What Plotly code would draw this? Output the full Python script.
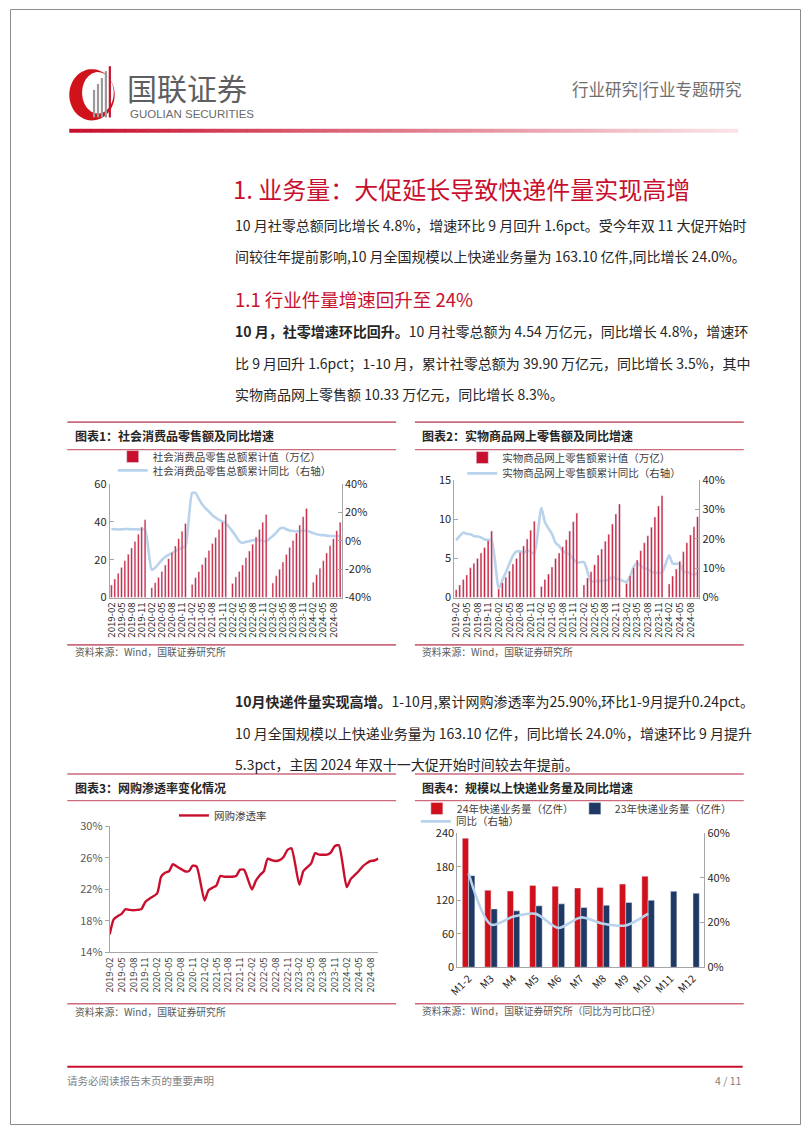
import plotly.graph_objects as go
import numpy as np

W, H = 802, 1133
def px(x): return x / W
def py(y): return 1 - y / H

# ---------------- DATA ----------------
years = [2019, 2020, 2021, 2022, 2023, 2024]
last_month_2024 = 10

# Chart 1: 社会消费品零售总额累计值 (万亿) / 累计同比 (%), Feb..Dec per year
retail_total = {
    2019: [6.61, 9.78, 12.82, 15.87, 19.52, 22.87, 26.21, 29.66, 33.52, 37.29, 41.16],
    2020: [5.21, 7.85, 10.62, 13.84, 17.26, 20.58, 23.96, 27.33, 31.16, 35.12, 39.20],
    2021: [6.97, 10.50, 13.69, 17.45, 21.19, 24.94, 28.65, 31.81, 36.00, 39.96, 44.08],
    2022: [7.44, 10.87, 13.83, 17.25, 21.04, 24.66, 28.27, 32.03, 36.05, 39.91, 43.97],
    2023: [7.70, 11.49, 14.99, 18.76, 22.76, 26.44, 30.20, 34.21, 38.39, 42.71, 47.15],
    2024: [8.13, 12.03, 15.55, 19.50, 23.60, 27.36, 31.13, 35.36, 39.90],
}
retail_yoy = {
    2019: [8.2, 8.3, 8.0, 8.1, 8.4, 8.3, 8.2, 8.2, 8.1, 8.0, 8.0],
    2020: [-20.5, -19.0, -16.2, -13.5, -11.4, -9.9, -8.6, -7.2, -5.9, -4.8, -3.9],
    2021: [33.8, 33.9, 29.6, 25.7, 23.0, 20.7, 18.1, 16.4, 14.9, 13.7, 12.5],
    2022: [6.7, 3.3, -0.2, -1.5, -0.7, -0.2, 0.5, 0.7, 0.6, -0.1, -0.2],
    2023: [3.5, 5.8, 8.5, 9.3, 8.2, 7.3, 7.0, 6.8, 6.9, 7.2, 7.2],
    2024: [5.5, 4.7, 4.1, 4.1, 3.7, 3.5, 3.4, 3.3, 3.5],
}

# Chart 2: 实物商品网上零售额累计值 (万亿) / 累计同比 (%)
online_total = {
    2019: [1.00, 1.60, 2.30, 2.90, 3.80, 4.40, 5.00, 5.70, 6.40, 7.30, 8.50],
    2020: [1.10, 1.90, 2.60, 3.40, 4.30, 5.00, 5.80, 6.60, 7.50, 8.60, 9.76],
    2021: [1.40, 2.30, 3.00, 3.90, 5.00, 5.70, 6.50, 7.40, 8.50, 9.70, 10.80],
    2022: [1.60, 2.50, 3.30, 4.20, 5.45, 6.20, 7.20, 8.10, 9.40, 10.70, 11.96],
    2023: [1.80, 2.80, 3.80, 4.80, 6.00, 7.00, 7.90, 9.00, 10.30, 11.70, 13.02],
    2024: [1.75, 2.75, 3.65, 4.65, 5.85, 7.00, 8.00, 9.05, 10.33],
}
online_yoy = {
    2019: [19.5, 21.0, 22.2, 21.7, 21.6, 21.0, 20.8, 20.5, 19.8, 19.7, 19.5],
    2020: [3.0, 5.9, 8.6, 11.5, 14.3, 15.7, 15.8, 15.3, 16.0, 15.7, 14.8],
    2021: [30.6, 25.8, 23.6, 21.7, 18.7, 17.6, 15.9, 15.2, 14.6, 13.2, 12.0],
    2022: [12.1, 8.8, 5.4, 5.6, 5.6, 5.7, 5.8, 6.1, 7.2, 6.4, 6.2],
    2023: [5.3, 7.3, 10.4, 11.8, 10.8, 10.0, 9.6, 8.9, 8.4, 8.5, 8.4],
    2024: [14.4, 11.6, 11.5, 11.5, 8.8, 8.7, 8.1, 7.9, 8.3],
}

# Chart 3: 网购渗透率 (%)
penetration = {
    2019: [16.3, 18.2, 18.6, 18.9, 19.5, 19.4, 19.35, 19.4, 19.5, 20.4, 20.8],
    2020: [21.5, 23.6, 24.1, 24.3, 25.2, 24.9, 24.6, 24.3, 24.3, 25.0, 24.9],
    2021: [20.6, 21.9, 22.2, 22.5, 23.7, 23.6, 23.6, 23.6, 23.7, 24.5, 24.5],
    2022: [22.0, 23.1, 23.8, 24.3, 25.9, 25.7, 25.6, 25.7, 26.1, 27.0, 27.2],
    2023: [22.6, 24.3, 24.8, 25.3, 26.6, 26.4, 26.4, 26.4, 26.7, 27.5, 27.6],
    2024: [22.3, 23.3, 23.8, 24.3, 24.9, 25.3, 25.6, 25.66, 25.9],
}

# Chart 4: 规模以上快递业务量 (亿件)
express_months = ["M1-2", "M3", "M4", "M5", "M6", "M7", "M8", "M9", "M10", "M11", "M12"]
express_2024 = [231, 138, 136.5, 146.5, 145, 142, 143, 149, 163.1]
express_2023 = [164, 104.5, 101, 110, 113.5, 107, 111, 116, 120, 136, 132.5]
express_yoy = [42.0, 19.1, 22.7, 23.9, 17.6, 22.3, 19.5, 18.7, 24.0]

# tick labels
yoy1_ticks = [-0.4, -0.2, 0, 0.2, 0.4]
yoy1_ticktext = ["-40%", "-20%", "0%", "20%", "40%"]

# ---------------- build monthly categories (January slot left empty) ----------------
months = []
for y in years:
    for m in range(1, 13):
        if y == 2019 and m < 2:
            continue
        if y == 2024 and m > last_month_2024:
            break
        months.append(f"{y}-{m:02d}")

def expand(d, scale=1.0):
    out = []
    for y in years:
        vals = d[y]
        if y != 2019:
            out.append(None)  # January
        out.extend([v * scale for v in vals])
    return out

tickv = [m for i, m in enumerate(months) if i % 3 == 0]

RED = "#C8102E"
RED4 = "#D0101A"
NAVY = "#1F3864"
LBLUE = "#B9D3EC"
AXC = "#A6A6A6"
TXT = "#262626"
FONT = "Noto Sans CJK SC"

fig = go.Figure()

# Chart 1
fig.add_trace(go.Scatter(x=months, y=expand(retail_yoy, 0.01), mode="lines",
                         line=dict(color=LBLUE, width=2.6, shape="spline", smoothing=0.6),
                         connectgaps=True, name="社会消费品零售总额累计同比（右轴）",
                         xaxis="x", yaxis="y", legend="legend2"))
fig.add_trace(go.Bar(x=months, y=expand(retail_total), marker_color=RED, width=0.5,
                     name="社会消费品零售总额累计值（万亿）", xaxis="x", yaxis="y2", legend="legend9"))

# Chart 2
fig.add_trace(go.Scatter(x=months, y=expand(online_yoy, 0.01), mode="lines",
                         line=dict(color=LBLUE, width=2.6, shape="spline", smoothing=0.6),
                         connectgaps=True, name="实物商品网上零售额累计同比（右轴）",
                         xaxis="x2", yaxis="y3", legend="legend4"))
fig.add_trace(go.Bar(x=months, y=expand(online_total), marker_color=RED, width=0.5,
                     name="实物商品网上零售额累计值（万亿）", xaxis="x2", yaxis="y4", legend="legend3"))

# Chart 3
fig.add_trace(go.Scatter(x=months, y=expand(penetration, 0.01), mode="lines",
                         line=dict(color=RED, width=2.4, shape="spline", smoothing=0.6),
                         connectgaps=True, name="网购渗透率",
                         xaxis="x3", yaxis="y5", legend="legend5"))

# Chart 4
fig.add_trace(go.Bar(x=express_months[:len(express_2024)], y=express_2024, marker_color=RED4,
                     name="24年快递业务量（亿件）", offsetgroup="a",
                     xaxis="x4", yaxis="y6", legend="legend6"))
fig.add_trace(go.Bar(x=express_months, y=express_2023, marker_color=NAVY,
                     name="23年快递业务量（亿件）", offsetgroup="b",
                     xaxis="x4", yaxis="y6", legend="legend7"))
fig.add_trace(go.Scatter(x=express_months[:len(express_yoy)], y=[v / 100 for v in express_yoy],
                         mode="lines", line=dict(color=LBLUE, width=2.6, shape="spline", smoothing=0.8),
                         name="同比（右轴）", xaxis="x4", yaxis="y7", legend="legend8"))

tickfont = dict(family=FONT, size=11, color=TXT)
datefont = dict(family=FONT, size=9.6, color=TXT)

def yax(**kw):
    base = dict(showgrid=False, zeroline=False, showline=True, linecolor=AXC, linewidth=1,
                ticks="inside", ticklen=4, tickcolor=AXC, tickfont=tickfont, fixedrange=True)
    base.update(kw)
    return base

def xax_dates(domain, anchor, rng):
    return dict(domain=domain, anchor=anchor, type="category", categoryorder="array",
                categoryarray=months, tickmode="array", tickvals=tickv, ticktext=tickv,
                tickangle=-90, tickfont=datefont, showline=True, linecolor=AXC, linewidth=1,
                ticks="", showgrid=False, range=rng, fixedrange=True)

n = len(months)
layout = dict(
    width=W, height=H, margin=dict(l=0, r=0, t=0, b=0),
    paper_bgcolor="white", plot_bgcolor="white", barmode="group", bargap=0.44, bargroupgap=0,
    font=dict(family=FONT, color=TXT), showlegend=True,
    # chart 1
    xaxis=xax_dates([px(101), px(336)], "y", [-0.5, n - 0.5]),
    yaxis=yax(domain=[py(597), py(482)], anchor="x", side="right", range=[-0.4, 0.4],
              tickmode="array", tickvals=yoy1_ticks, ticktext=yoy1_ticktext),
    yaxis2=yax(domain=[py(597), py(482)], anchor="x", overlaying="y", side="left",
               range=[0, 60], dtick=20),
    # chart 2
    xaxis2=xax_dates([px(450), px(698)], "y3", [-0.5, n - 0.5]),
    yaxis3=yax(domain=[py(597), py(478)], anchor="x2", side="right", range=[0, 0.4],
               dtick=0.1, tickformat=".0%"),
    yaxis4=yax(domain=[py(597), py(478)], anchor="x2", overlaying="y3", side="left",
               range=[0, 15], dtick=5),
    # chart 3
    xaxis3=dict(xax_dates([px(101), px(373)], "y5", [0, n - 1]),
                tickfont=dict(family=FONT, size=9.6, color="#404040")),
    yaxis5=yax(domain=[py(957), py(829)], anchor="x3", range=[0.14, 0.30], tick0=0.14, dtick=0.04,
               tickformat=".0%", ticks="outside", tickfont=dict(family=FONT, size=11, color="#595959")),
    # chart 4
    xaxis4=dict(domain=[px(453), px(703)], anchor="y6", type="category", tickangle=-45,
                tickfont=dict(family=FONT, size=10.5, color=TXT), showline=True, linecolor=AXC,
                ticks="", showgrid=False, range=[-0.5, 10.5], fixedrange=True),
    yaxis6=yax(domain=[py(972), py(836)], anchor="x4", range=[0, 240], dtick=60),
    yaxis7=yax(domain=[py(972), py(836)], anchor="x4", overlaying="y6", side="right",
               range=[0, 0.6], dtick=0.2, tickformat=".0%"),
)

legfont = dict(family=FONT, size=10.5, color="#404040")
def leg(x, y):
    return dict(x=px(x), y=py(y), xanchor="left", yanchor="middle", bgcolor="rgba(0,0,0,0)",
                borderwidth=0, font=legfont, itemwidth=30, itemclick=False, itemdoubleclick=False,
                visible=True)

layout["legend9"] = leg(104, 454)
layout["legend2"] = leg(104, 468)
layout["legend3"] = leg(458, 455)
layout["legend4"] = leg(458, 471)
layout["legend5"] = leg(166, 818)
layout["legend6"] = leg(412, 811)
layout["legend7"] = leg(572, 811)
layout["legend8"] = leg(411, 824)

fig.update_layout(**layout)

# ---------------- page decoration ----------------
shapes = []
ann = []

def text(x, y, s, size, color=TXT, xanchor="left", family=FONT, **kw):
    ann.append(dict(x=px(x), y=py(y), xref="paper", yref="paper", text=s, showarrow=False,
                    xanchor=xanchor, yanchor="middle", font=dict(family=family, size=size, color=color), **kw))

def hline(x0, x1, y, color, width):
    shapes.append(dict(type="line", xref="paper", yref="paper", x0=px(x0), x1=px(x1), y0=py(y), y1=py(y),
                       line=dict(color=color, width=width)))

# page border
shapes.append(dict(type="rect", xref="paper", yref="paper", x0=px(0.5), x1=px(800.5), y0=py(1131.5), y1=py(0.5),
                   line=dict(color="#8C8C8C", width=1)))

# logo: red crescent
t = np.linspace(0, 2 * np.pi, 60)
outer = [(83 + 23 * np.cos(a), 87 + 26 * np.sin(a)) for a in t]
inner = [(89 + 16 * np.cos(a), 85 + 21 * np.sin(a)) for a in t[::-1]]
def path_of(pts):
    return "M " + " L ".join(f"{px(a):.5f},{py(b):.5f}" for a, b in pts) + " Z"
shapes.append(dict(type="path", xref="paper", yref="paper", path=path_of(outer) + " " + path_of(inner),
                   fillcolor="#D0121B", line=dict(width=0), fillrule="evenodd"))
for bx, top, col in [(84, 82, "#9A9A9A"), (88, 76, "#9A9A9A"), (92, 70, "#9A9A9A"), (96, 63, "#9A9A9A"),
                     (100, 58, "#C8102E")]:
    shapes.append(dict(type="rect", xref="paper", yref="paper", x0=px(bx), x1=px(bx + 2.2),
                       y0=py(110), y1=py(top), fillcolor=col, line=dict(width=0)))
text(116, 79, "国联证券", 30, color="#5F5F5F")
text(119, 106, "GUOLIAN SECURITIES", 11.5, color="#6A6A6A", family="Liberation Sans")
text(742, 81, "行业研究|行业专题研究", 16.5, color="#6E6E6E", xanchor="right")

# gradient header line
segs = 60
c0 = np.array([200, 16, 46]); c1 = np.array([250, 228, 232])
for i in range(segs):
    f = i / (segs - 1)
    c = (c0 * (1 - f) + c1 * f).astype(int)
    xa = 60 + (737 - 60) * i / segs
    xb = 60 + (737 - 60) * (i + 1) / segs + 0.5
    shapes.append(dict(type="rect", xref="paper", yref="paper", x0=px(xa), x1=px(xb), y0=py(125.5), y1=py(121.5),
                       fillcolor=f"rgb({c[0]},{c[1]},{c[2]})", line=dict(width=0)))

# headings and paragraphs
TRED = "#C8102E"
text(224, 182, "1. 业务量：大促延长导致快递件量实现高增", 24, color=TRED)
body = 14
text(226, 219, "10 月社零总额同比增长 4.8%，增速环比 9 月回升 1.6pct。受今年双 11 大促开始时", body)
text(226, 251, "间较往年提前影响,10 月全国规模以上快递业务量为 163.10 亿件,同比增长 24.0%。", body)
text(226, 294, "1.1 行业件量增速回升至 24%", 18.5, color=TRED)
text(226, 327, "<b>10 月，社零增速环比回升。</b>10 月社零总额为 4.54 万亿元，同比增长 4.8%，增速环", body)
text(226, 359, "比 9 月回升 1.6pct；1-10 月，累计社零总额为 39.90 万亿元，同比增长 3.5%，其中", body)
text(226, 391, "实物商品网上零售额 10.33 万亿元，同比增长 8.3%。", body)
text(226, 702, "<b>10月快递件量实现高增。</b>1-10月,累计网购渗透率为25.90%,环比1-9月提升0.24pct。", body)
text(226, 734, "10 月全国规模以上快递业务量为 163.10 亿件，同比增长 24.0%，增速环比 9 月提升", body)
text(226, 766, "5.3pct，主因 2024 年双十一大促开始时间较去年提前。", body)

# chart frames
BOX = "#CD6A7C"
for (x0, x1) in [(58, 391), (410, 743)]:
    hline(x0, x1, 419, BOX, 1.6)
    hline(x0, x1, 447, BOX, 1.2)
    hline(x0, x1, 645, BOX, 1.6)
    hline(x0, x1, 776, BOX, 1.6)
    hline(x0, x1, 803, BOX, 1.2)
    hline(x0, x1, 1009, BOX, 1.6)

text(64, 433, "<b>图表1：社会消费品零售额及同比增速</b>", 12)
text(415, 433, "<b>图表2：实物商品网上零售额及同比增速</b>", 12)
text(64, 790, "<b>图表3：网购渗透率变化情况</b>", 12)
text(415, 790, "<b>图表4：规模以上快递业务量及同比增速</b>", 12)

SRC = "#595959"
text(64, 652, "资料来源：Wind，国联证券研究所", 9.8, color=SRC)
text(415, 652, "资料来源：Wind，国联证券研究所", 9.8, color=SRC)
text(64, 1017, "资料来源：Wind，国联证券研究所", 9.8, color=SRC)
text(415, 1016, "资料来源：Wind，国联证券研究所（同比为可比口径）", 9.8, color=SRC)

# footer
hline(58, 742, 1073, "#C8102E", 2)
text(56, 1087, "请务必阅读报告末页的重要声明", 10.5, color="#7F7F7F")
text(742, 1087, "4 / 11", 10.5, color="#7F7F7F", xanchor="right")

fig.update_layout(shapes=shapes, annotations=ann)
fig.write_html("out.html")
